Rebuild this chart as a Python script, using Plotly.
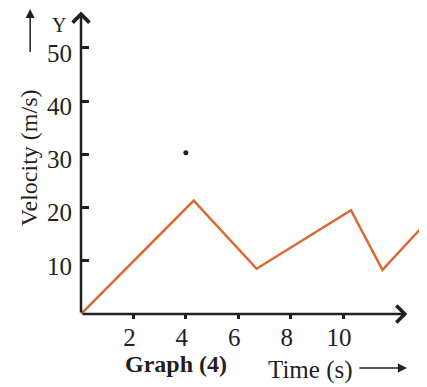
import plotly.graph_objects as go

tiempo = [0, 4.3, 6.7, 10.3, 11.5, 13.2]
velocidad = [0, 21.3, 8.5, 19.5, 8.3, 17.3]
punto_t = [4]
punto_v = [30.3]
ticks_x = [2, 4, 6, 8, 10]
ticks_y = [10, 20, 30, 40, 50]

naranja = "#D9692E"
negro = "#231F20"
fuente = "Times New Roman, Liberation Serif, serif"

fig = go.Figure()

fig.add_trace(
    go.Scatter(
        x=tiempo,
        y=velocidad,
        mode="lines",
        line=dict(color=naranja, width=2.5),
        hoverinfo="skip"
    )
)

fig.add_trace(
    go.Scatter(
        x=punto_t,
        y=punto_v,
        mode="markers",
        marker=dict(color=negro, size=5),
        hoverinfo="skip"
    )
)

# la página añade 8px de margen al cuerpo: la figura es 8px más pequeña
fig.update_layout(
    width=419,
    height=379,
    margin=dict(l=73, r=0, t=2, b=73),
    plot_bgcolor="white",
    paper_bgcolor="white",
    showlegend=False,
    font=dict(family=fuente, color=negro, size=25),
    xaxis=dict(
        range=[0, 13.2],
        tickvals=ticks_x,
        ticks="outside",
        ticklen=4,
        tickwidth=2.5,
        tickcolor=negro,
        showgrid=False,
        zeroline=False,
        showline=False,
        automargin=False,
        ticklabelshift=-4,
        ticklabelstandoff=-3,
        tickfont=dict(size=25)
    ),
    yaxis=dict(
        range=[0, 57.1],
        tickvals=ticks_y,
        ticks="inside",
        ticklen=8,
        tickwidth=2.5,
        tickcolor=negro,
        showgrid=False,
        zeroline=False,
        showline=False,
        automargin=False,
        ticklabelshift=5,
        ticklabelstandoff=8,
        tickfont=dict(size=25)
    )
)

# ejes con flecha
fig.add_annotation(
    x=12.45, y=0, ax=0, ay=0,
    xref="x", yref="y", axref="x", ayref="y",
    text="", showarrow=True,
    arrowhead=4, arrowsize=1.3, arrowwidth=2.5, arrowcolor=negro
)
fig.add_annotation(
    x=0, y=56.8, ax=0, ay=0,
    xref="x", yref="y", axref="x", ayref="y",
    text="", showarrow=True,
    arrowhead=4, arrowsize=1.3, arrowwidth=2.5, arrowcolor=negro
)

# textos
textos = [
    dict(x=-0.150, y=0.513, text="Velocity (m/s)", textangle=-90, font=dict(size=24)),
    dict(x=-0.064, y=0.951, text="Y", font=dict(size=20)),
    dict(x=0.275, y=-0.164, text="<b>Graph (4)</b>", font=dict(size=24)),
    dict(x=0.662, y=-0.184, text="Time (s)", font=dict(size=25)),
]
for t in textos:
    fig.add_annotation(
        xref="paper", yref="paper",
        xanchor="center", yanchor="middle",
        showarrow=False, **t
    )

# flecha vertical junto al título del eje y
fig.add_annotation(
    x=-0.147, y=1.005, ax=0, ay=45,
    xref="paper", yref="paper",
    text="", showarrow=True,
    arrowhead=2, arrowsize=1.2, arrowwidth=1.5, arrowcolor=negro
)
# flecha horizontal junto a Time
fig.add_annotation(
    x=0.942, y=-0.178, ax=-49, ay=0,
    xref="paper", yref="paper",
    text="", showarrow=True,
    arrowhead=2, arrowsize=1.2, arrowwidth=1.5, arrowcolor=negro
)

fig.write_html("out.html")
